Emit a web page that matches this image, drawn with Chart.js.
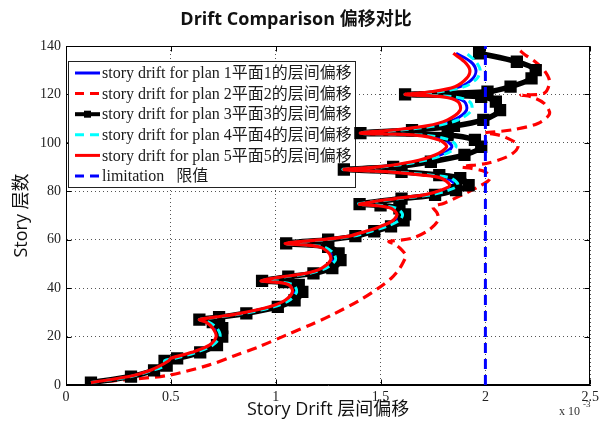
<!DOCTYPE html>
<html><head><meta charset="utf-8">
<script src="https://cdn.jsdelivr.net/npm/chart.js@4/dist/chart.umd.min.js"></script>
<style>html,body{margin:0;padding:0;background:#fff;}</style>
</head><body>
<canvas id="c" width="603" height="426"></canvas>
<script>
// ---- data (drift in units of 1e-3) ----
const titleText = 'Drift Comparison 偏移对比';
const xTitle = 'Story Drift 层间偏移';
const yTitle = 'Story 层数';
const xTicks = [0, 0.5, 1, 1.5, 2, 2.5];
const yTicks = [0, 20, 40, 60, 80, 100, 120, 140];
const seriesLabels = [
  'story drift for plan 1平面1的层间偏移',
  'story drift for plan 2平面2的层间偏移',
  'story drift for plan 3平面3的层间偏移',
  'story drift for plan 4平面4的层间偏移',
  'story drift for plan 5平面5的层间偏移',
  'limitation   限值'
];
// story levels shared by plans 1, 3, 4, 5
const stories = [
  1, 3.5, 6, 8, 10,
  11, 13.5, 16.5, 20, 23.5, 26, 27,
  28, 29.6, 32.3, 35, 38.5, 41.3, 42.5, 43,
  44.7, 46.1, 48.3, 51.6, 54.4, 57.1, 58.5,
  60, 61.5, 63.5, 65.5, 68, 70.5, 73, 74.2, 74.7,
  77, 78.5, 80.5, 82.5, 85.4, 86.7, 88, 89,
  90.1, 92.2, 95, 98.4, 101.2, 103.2, 104,
  105.3, 107, 109.5, 113.5, 117, 119, 120,
  121.1, 123.2, 126.6, 130, 133.5, 137
];
const plan1 = [
  0.119, 0.30, 0.41, 0.46, 0.49,
  0.51, 0.61, 0.69, 0.725, 0.71, 0.675, 0.64,
  0.72, 0.84, 0.98, 1.055, 1.09, 1.075, 1.01, 0.93,
  1.04, 1.15, 1.23, 1.275, 1.265, 1.215, 1.045,
  1.23, 1.36, 1.445, 1.52, 1.575, 1.595, 1.565, 1.48, 1.40,
  1.58, 1.72, 1.81, 1.855, 1.815, 1.72, 1.55, 1.325,
  1.50, 1.67, 1.785, 1.84, 1.805, 1.685, 1.404,
  1.58, 1.745, 1.85, 1.91, 1.90, 1.83, 1.617,
  1.76, 1.88, 1.94, 1.955, 1.93, 1.86
];
const plan3 = [
  0.119, 0.31, 0.42, 0.48, 0.47,
  0.53, 0.64, 0.72, 0.745, 0.745, 0.70, 0.636,
  0.73, 0.86, 1.01, 1.09, 1.127, 1.11, 1.04, 0.935,
  1.06, 1.18, 1.27, 1.309, 1.30, 1.25, 1.05,
  1.25, 1.38, 1.47, 1.55, 1.61, 1.617, 1.59, 1.50, 1.40,
  1.60, 1.76, 1.86, 1.92, 1.88, 1.78, 1.60, 1.325,
  1.56, 1.74, 1.90, 1.98, 1.95, 1.82, 1.404,
  1.65, 1.85, 1.99, 2.07, 2.05, 1.98, 1.617,
  2.01, 2.12, 2.22, 2.24, 2.15, 1.97
];
const plan4 = [
  0.119, 0.31, 0.41, 0.47, 0.47,
  0.52, 0.62, 0.70, 0.735, 0.72, 0.68, 0.636,
  0.72, 0.85, 0.99, 1.065, 1.10, 1.085, 1.02, 0.935,
  1.045, 1.16, 1.24, 1.285, 1.275, 1.225, 1.045,
  1.235, 1.37, 1.455, 1.53, 1.59, 1.605, 1.575, 1.49, 1.39,
  1.59, 1.735, 1.825, 1.87, 1.835, 1.735, 1.56, 1.32,
  1.51, 1.68, 1.80, 1.86, 1.83, 1.70, 1.40,
  1.59, 1.76, 1.87, 1.935, 1.925, 1.85, 1.617,
  1.78, 1.90, 1.96, 1.975, 1.955, 1.91
];
const plan5 = [
  0.119, 0.30, 0.40, 0.45, 0.49,
  0.50, 0.60, 0.684, 0.716, 0.70, 0.668, 0.636,
  0.71, 0.83, 0.97, 1.045, 1.08, 1.064, 1.0, 0.93,
  1.032, 1.143, 1.22, 1.262, 1.254, 1.206, 1.045,
  1.22, 1.35, 1.43, 1.50, 1.56, 1.578, 1.55, 1.47, 1.40,
  1.57, 1.71, 1.79, 1.83, 1.79, 1.70, 1.54, 1.325,
  1.49, 1.65, 1.76, 1.815, 1.78, 1.665, 1.404,
  1.56, 1.72, 1.82, 1.88, 1.87, 1.80, 1.617,
  1.74, 1.855, 1.91, 1.926, 1.90, 1.847
];
// plan 2 has its own story levels
const stories2 = [
  1, 2.5, 4.1, 8.3, 12, 15.8, 21, 25, 29, 35,
  40, 44, 47.5, 51, 53.5, 56.4, 58.3, 59.2, 60.6, 64,
  68, 71, 73.5, 75, 76.5, 79, 82, 85, 88, 89.5,
  90.1, 91.6, 95, 99, 102.5, 103.6, 104.1, 105.3, 108, 112,
  116.3, 119, 119.8, 120.5, 125.3, 130, 134, 136.3, 138.5
];
const plan2 = [
  0.12, 0.33, 0.494, 0.684, 0.80, 0.92, 1.06, 1.17, 1.27, 1.40,
  1.49, 1.55, 1.586, 1.61, 1.62, 1.594, 1.565, 1.54, 1.65, 1.73,
  1.775, 1.77, 1.75, 1.80, 1.84, 1.90, 1.97, 2.02, 2.0, 1.93,
  1.886, 2.01, 2.12, 2.156, 2.09, 2.04, 1.997, 2.124, 2.25, 2.306,
  2.28, 2.22, 2.17, 2.28, 2.306, 2.28, 2.23, 2.19, 2.16
];
const limitX = [2, 2];
const limitY = [0, 140];

// ---- build ----
const pts = (xs, ys) => xs.map((v, i) => ({x: v, y: ys[i]}));
const base = {showLine: true, pointRadius: 0, pointHoverRadius: 0, tension: 0.3, fill: false};
const datasets = [
  Object.assign({}, base, {label: seriesLabels[0], data: pts(plan1, stories), borderColor: '#0000ff', borderWidth: 3, order: 6}),
  Object.assign({}, base, {label: seriesLabels[1], data: pts(plan2, stories2), borderColor: '#ff0000', borderWidth: 3.2, borderDash: [10, 6], order: 5}),
  Object.assign({}, base, {label: seriesLabels[2], data: pts(plan3, stories), borderColor: '#000000', borderWidth: 5.5,
    pointRadius: 4.8, pointStyle: 'rect', pointBackgroundColor: '#000', pointBorderColor: '#000', order: 4}),
  Object.assign({}, base, {label: seriesLabels[3], data: pts(plan4, stories), borderColor: '#00ffff', borderWidth: 3, borderDash: [8, 5], order: 3}),
  Object.assign({}, base, {label: seriesLabels[4], data: pts(plan5, stories), borderColor: '#ff0000', borderWidth: 3.2, order: 2}),
  Object.assign({}, base, {label: seriesLabels[5], data: pts(limitX, limitY), borderColor: '#0000ff', borderWidth: 3, borderDash: [10, 6], tension: 0, order: 1})
];

const framePlugin = {
  id: 'frame',
  beforeDatasetsDraw(chart) {
    const {ctx, chartArea: ca, scales: {x, y}} = chart;
    ctx.save();
    ctx.strokeStyle = '#000';
    ctx.lineWidth = 1;
    ctx.setLineDash([]);
    const L = Math.round(ca.left) + 0.5, R = Math.round(ca.right) - 0.5, T = Math.round(ca.top) + 0.5, B = Math.round(ca.bottom) - 0.5;
    ctx.strokeRect(L, T, R - L, B - T);
    ctx.beginPath();
    xTicks.forEach(v => { const p = Math.round(x.getPixelForValue(v)) + 0.5; ctx.moveTo(p, B); ctx.lineTo(p, B - 5); ctx.moveTo(p, T); ctx.lineTo(p, T + 5); });
    yTicks.forEach(v => { const p = Math.round(y.getPixelForValue(v)) + 0.5; ctx.moveTo(L, p); ctx.lineTo(L + 5, p); ctx.moveTo(R, p); ctx.lineTo(R - 5, p); });
    ctx.stroke();
    // legend box
    const bx = 68.5, by = 61.5, bw = 287, bh = 126;
    ctx.fillStyle = '#fff';
    ctx.fillRect(bx, by, bw, bh);
    ctx.strokeStyle = '#222';
    ctx.strokeRect(bx, by, bw, bh);
    ctx.font = '16px "Liberation Serif", "Noto Sans CJK SC", serif';
    ctx.textBaseline = 'middle';
    ctx.textAlign = 'left';
    chart.data.datasets.forEach((ds, i) => {
      const yy = 73 + i * 20.6;
      ctx.strokeStyle = ds.borderColor;
      ctx.lineWidth = ds.pointStyle === 'rect' ? 4 : 3;
      ctx.setLineDash(ds.borderDash ? [9, 6] : []);
      ctx.beginPath(); ctx.moveTo(75, yy); ctx.lineTo(100, yy); ctx.stroke();
      ctx.setLineDash([]);
      if (ds.pointStyle === 'rect') { ctx.fillStyle = '#000'; ctx.fillRect(84, yy - 3.5, 7, 7); }
      ctx.fillStyle = '#1a1a1a';
      ctx.fillText(ds.label, 102, yy + 1);
    });
    ctx.restore();
  },
  afterDraw(chart) {
    const {ctx} = chart;
    ctx.save();
    ctx.fillStyle = '#333';
    ctx.textBaseline = 'alphabetic';
    ctx.textAlign = 'left';
    ctx.font = '12px "Liberation Serif", serif';
    ctx.fillText('x 10', 559, 415);
    ctx.font = '9px "Liberation Serif", serif';
    ctx.fillText('-3', 583, 407);
    ctx.restore();
  }
};

new Chart(document.getElementById('c'), {
  type: 'scatter',
  data: {datasets},
  options: {
    responsive: false,
    animation: false,
    devicePixelRatio: 1,
    layout: {padding: {left: 0, right: 11, top: 0, bottom: 0}},
    plugins: {
      legend: {display: false},
      tooltip: {enabled: false},
      title: {display: true, text: titleText, color: '#111',
        font: {family: '"Open Sans", "Noto Sans CJK SC", sans-serif', size: 18, weight: 'bold'},
        padding: {top: 9, bottom: 15.4}}
    },
    scales: {
      x: {
        type: 'linear', min: 0, max: 2.5,
        afterBuildTicks: s => { s.ticks = xTicks.map(v => ({value: v})); },
        afterFit: s => { s.height = 41; },
        ticks: {callback: v => String(v), color: '#222', padding: 4,
          font: {family: '"Liberation Serif", serif', size: 14}},
        grid: {color: '#555', lineWidth: 1, drawTicks: false},
        border: {display: true, color: '#000', width: 1, dash: [1, 3]},
        title: {display: true, text: xTitle, color: '#111',
          font: {family: '"Open Sans", "Noto Sans CJK SC", sans-serif', size: 18},
          padding: {top: 0, bottom: 5}}
      },
      y: {
        type: 'linear', min: 0, max: 140,
        afterBuildTicks: s => { s.ticks = yTicks.map(v => ({value: v})); },
        afterFit: s => { s.width = 66; },
        ticks: {callback: v => String(v), color: '#222', padding: 5,
          font: {family: '"Liberation Serif", serif', size: 14}},
        grid: {color: '#555', lineWidth: 1, drawTicks: false},
        border: {display: true, color: '#000', width: 1, dash: [1, 3]},
        title: {display: true, text: yTitle, color: '#111',
          font: {family: '"Open Sans", "Noto Sans CJK SC", sans-serif', size: 18},
          padding: {top: 11, bottom: 0}}
      }
    }
  },
  plugins: [framePlugin]
});
</script>
</body></html>
